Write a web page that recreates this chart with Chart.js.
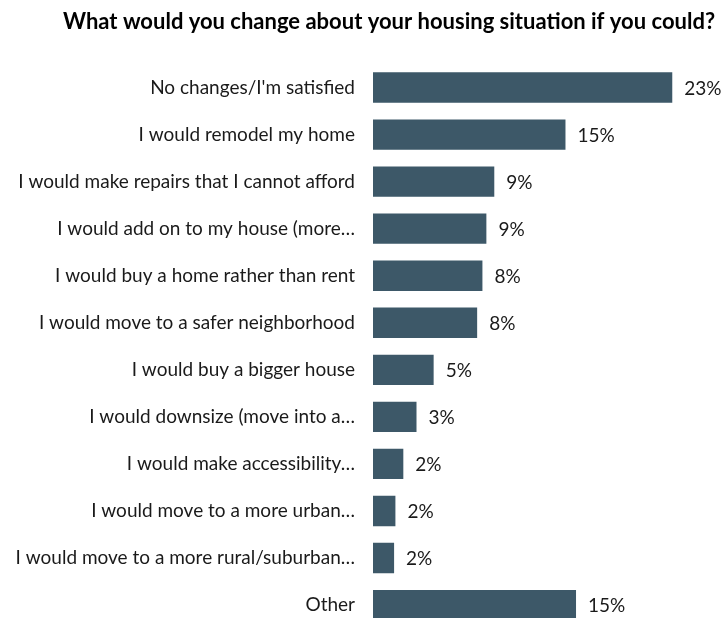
<!DOCTYPE html>
<html>
<head>
<meta charset="utf-8">
<script src="https://cdn.jsdelivr.net/npm/chart.js@4"></script>
<style>
  html, body { margin: 0; padding: 0; background: #fff; overflow: hidden; }
</style>
</head>
<body>
<canvas id="c" width="725" height="658"></canvas>
<script>
const titleText = "What would you change about your housing situation if you could?";
const categories = [
  "No changes/I'm satisfied",
  "I would remodel my home",
  "I would make repairs that I cannot afford",
  "I would add on to my house (more\u2026",
  "I would buy a home rather than rent",
  "I would move to a safer neighborhood",
  "I would buy a bigger house",
  "I would downsize (move into a\u2026",
  "I would make accessibility\u2026",
  "I would move to a more urban\u2026",
  "I would move to a more rural/suburban\u2026",
  "Other"
];
const values = [22.7, 14.6, 9.2, 8.6, 8.3, 7.9, 4.6, 3.3, 2.3, 1.7, 1.6, 15.4];

const barColor = '#3d5868';
const textColor = '#1a1a1a';
const fontFamily = 'Lato, "Open Sans", sans-serif';

const valueLabels = {
  id: 'valueLabels',
  afterDatasetsDraw(chart) {
    const ctx = chart.ctx;
    const meta = chart.getDatasetMeta(0);
    ctx.save();
    ctx.font = '19px ' + fontFamily;
    ctx.fillStyle = textColor;
    ctx.textAlign = 'left';
    ctx.textBaseline = 'middle';
    meta.data.forEach((bar, i) => {
      ctx.fillText(Math.round(values[i]) + '%', bar.x + 12, bar.y + 1);
    });
    ctx.restore();
  }
};

const chartTitle = {
  id: 'chartTitle',
  afterDraw(chart) {
    const ctx = chart.ctx;
    ctx.save();
    ctx.font = 'bold 22px ' + fontFamily;
    ctx.fillStyle = '#000';
    ctx.textAlign = 'center';
    ctx.textBaseline = 'middle';
    ctx.fillText(titleText, 389, 22);
    ctx.restore();
  }
};

new Chart(document.getElementById('c'), {
  type: 'bar',
  data: {
    labels: categories,
    datasets: [{
      data: values,
      backgroundColor: barColor,
      borderWidth: 0,
      categoryPercentage: 1,
      barPercentage: 0.645
    }]
  },
  options: {
    indexAxis: 'y',
    responsive: false,
    animation: false,
    layout: { padding: { left: 0, right: 0, top: 64, bottom: 1 } },
    plugins: {
      legend: { display: false },
      tooltip: { enabled: false },
      title: { display: false }
    },
    scales: {
      x: { display: false, min: 0, max: 26.7 },
      y: {
        grid: { display: false, drawTicks: false },
        border: { display: false },
        ticks: {
          color: textColor,
          font: { family: fontFamily, size: 19 },
          padding: 18,
          autoSkip: false
        },
        afterFit(scale) { scale.width = 373; }
      }
    }
  },
  plugins: [valueLabels, chartTitle]
});
</script>
</body>
</html>
